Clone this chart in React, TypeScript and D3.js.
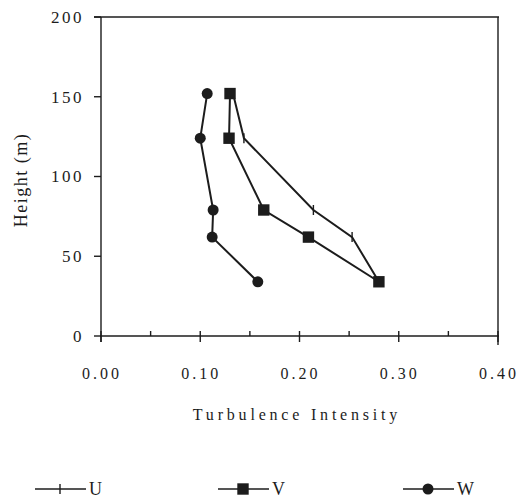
import React from 'react';
import * as d3 from 'd3';

// heights (m) of the measurement levels
const heights = [152, 124, 79, 62, 34];
// turbulence intensity per component
const uValues = [0.133, 0.144, 0.214, 0.253, 0.28];
const vValues = [0.13, 0.129, 0.164, 0.209, 0.28];
const wValues = [0.107, 0.1, 0.113, 0.112, 0.158];

const xTicks = [0, 0.1, 0.2, 0.3, 0.4];
const xMinorTicks = [0.05, 0.15, 0.25, 0.35];
const yTicks = [0, 50, 100, 150, 200];
const seriesNames = ['U', 'V', 'W'];

const W = 519;
const H = 502;
const ink = '#1c1c1c';
const font = '"Liberation Serif", "DejaVu Serif", serif';

const x = d3.scaleLinear().domain([0, 0.4]).range([101, 498]);
const y = d3.scaleLinear().domain([0, 200]).range([336, 17]);

const line = d3
  .line<[number, number]>()
  .x((d) => x(d[0]))
  .y((d) => y(d[1]));

const squarePath = d3.symbol().type(d3.symbolSquare).size(130)() as string;
const circlePath = d3.symbol().type(d3.symbolCircle).size(95)() as string;

function Marker({kind, cx, cy}: {kind: string; cx: number; cy: number}) {
  if (kind === 'U') {
    return <line x1={cx} x2={cx} y1={cy - 5} y2={cy + 5} stroke={ink} strokeWidth={1.4} />;
  }
  return (
    <path
      d={kind === 'V' ? squarePath : circlePath}
      transform={`translate(${cx},${cy})`}
      fill={ink}
    />
  );
}

export default function App() {
  const series = [
    {name: 'U', values: uValues},
    {name: 'V', values: vValues},
    {name: 'W', values: wValues},
  ];
  const legendX = [35, 218, 403];

  return (
    <svg width={W} height={H} style={{position: 'absolute', left: 0, top: 0}}>
      <rect width={W} height={H} fill="#fff" />
      {/* frame */}
      <line x1={94} x2={499} y1={y(200)} y2={y(200)} stroke={ink} strokeWidth={1.4} />
      <line x1={498} x2={498} y1={y(200)} y2={y(0) + 9} stroke={ink} strokeWidth={1.4} />
      <line x1={x(0)} x2={x(0)} y1={y(200)} y2={y(0) + 6} stroke={ink} strokeWidth={1.4} />
      <line x1={x(0) - 1} x2={499} y1={y(0)} y2={y(0)} stroke={ink} strokeWidth={1.4} />

      {yTicks.map((t) => (
        <g key={'y' + t}>
          <line x1={x(0) - 7} x2={x(0)} y1={y(t)} y2={y(t)} stroke={ink} strokeWidth={1.4} />
          <text
            x={84}
            y={y(t)}
            dy="0.35em"
            textAnchor="end"
            fontFamily={font}
            fontSize={17}
            letterSpacing={2.5}
            fill={ink}
          >
            {t}
          </text>
        </g>
      ))}

      {xTicks.map((t) => (
        <g key={'x' + t}>
          <line x1={x(t)} x2={x(t)} y1={y(0) - 5} y2={y(0) + 6} stroke={ink} strokeWidth={1.4} />
          <text
            x={x(t) + 1}
            y={373}
            dy="0.35em"
            textAnchor="middle"
            fontFamily={font}
            fontSize={16}
            letterSpacing={3}
            fill={ink}
          >
            {t.toFixed(2)}
          </text>
        </g>
      ))}
      {xMinorTicks.map((t) => (
        <line key={'m' + t} x1={x(t)} x2={x(t)} y1={y(0) - 5} y2={y(0)} stroke={ink} strokeWidth={1.4} />
      ))}

      <text
        x={297}
        y={414}
        dy="0.35em"
        textAnchor="middle"
        fontFamily={font}
        fontSize={16}
        letterSpacing={3.8}
        fill={ink}
      >
        Turbulence Intensity
      </text>
      <text
        transform={`translate(21,180) rotate(-90)`}
        dy="0.35em"
        textAnchor="middle"
        fontFamily={font}
        fontSize={18}
        letterSpacing={1.5}
        fill={ink}
      >
        Height (m)
      </text>

      {series.map((s) => {
        const pts = s.values.map((v, i) => [v, heights[i]] as [number, number]);
        return (
          <g key={s.name}>
            <path d={line(pts) as string} fill="none" stroke={ink} strokeWidth={2} />
            {pts.map((p, i) => (
              <Marker key={i} kind={s.name} cx={x(p[0])} cy={y(p[1])} />
            ))}
          </g>
        );
      })}

      {seriesNames.map((n, i) => (
        <g key={'lg' + n}>
          <line x1={legendX[i]} x2={legendX[i] + 51} y1={489} y2={489} stroke={ink} strokeWidth={1.6} />
          <Marker kind={n} cx={legendX[i] + 25} cy={489} />
          <text
            x={legendX[i] + 54}
            y={489}
            dy="0.35em"
            fontFamily={font}
            fontSize={18}
            fill={ink}
          >
            {n}
          </text>
        </g>
      ))}
    </svg>
  );
}
